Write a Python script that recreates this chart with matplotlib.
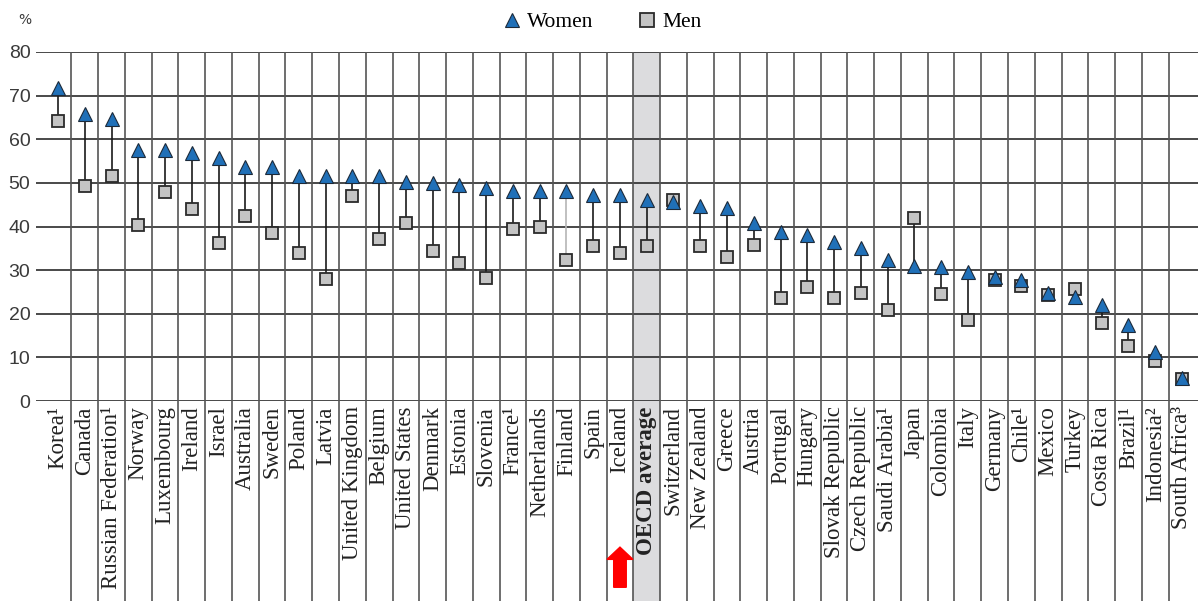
import matplotlib.pyplot as plt
from matplotlib.lines import Line2D
from matplotlib.patches import Rectangle, FancyArrow

countries = ["Korea¹", "Canada", "Russian Federation¹", "Norway", "Luxembourg", "Ireland",
             "Israel", "Australia", "Sweden", "Poland", "Latvia", "United Kingdom", "Belgium",
             "United States", "Denmark", "Estonia", "Slovenia", "France¹", "Netherlands",
             "Finland", "Spain", "Iceland", "OECD average", "Switzerland", "New Zealand",
             "Greece", "Austria", "Portugal", "Hungary", "Slovak Republic", "Czech Republic",
             "Saudi Arabia¹", "Japan", "Colombia", "Italy", "Germany", "Chile¹", "Mexico",
             "Turkey", "Costa Rica", "Brazil¹", "Indonesia²", "South Africa³"]

women = [71.8, 65.8, 64.7, 57.6, 57.6, 56.9, 55.7, 53.7, 53.7, 51.6, 51.5, 51.5, 51.5,
         50.2, 50.0, 49.5, 48.9, 48.2, 48.2, 48.2, 47.2, 47.2, 46.1, 45.6, 44.7,
         44.2, 40.8, 38.8, 38.0, 36.5, 35.1, 32.3, 31.0, 30.7, 29.6, 28.5, 27.8, 24.7,
         23.9, 22.0, 17.4, 11.2, 5.3]

men = [64.2, 49.3, 51.6, 40.4, 47.9, 44.0, 36.2, 42.4, 38.5, 34.0, 28.0, 47.0, 37.2,
       40.8, 34.4, 31.6, 28.2, 39.4, 39.9, 32.3, 35.6, 34.0, 35.6, 46.1, 35.6,
       33.0, 35.8, 23.6, 26.1, 23.6, 24.8, 20.9, 42.0, 24.5, 18.6, 27.8, 26.4, 24.3,
       25.7, 17.9, 12.6, 9.2, 5.0]

highlight = "OECD average"
grey_stem = "Finland"
arrow_at = "Iceland"

serif = ["Liberation Serif", "DejaVu Serif"]

fig = plt.figure(figsize=(11.98, 6.01), dpi=100)
ax = fig.add_axes([36 / 1198, 200 / 601, 1162 / 1198, 349 / 601])

n = len(countries)
x = list(range(n))
ax.set_xlim(-0.822, 42.6)
ax.set_ylim(0, 80)
bottom = -50

# grey band behind the OECD average column
hi = countries.index(highlight)
ax.add_patch(Rectangle((hi - 0.5, bottom), 1, 80 - bottom, facecolor="#dcdcde",
                       edgecolor="none", zorder=0, clip_on=False))

# grid
for v in range(0, 81, 10):
    ax.axhline(v, color="#2a2a2a", lw=1.2, zorder=1)
ax.vlines([i + 0.5 for i in range(n - 1)], bottom, 80, color="#555555", lw=1.2,
          zorder=1, clip_on=False)

# stems
for i, c in enumerate(countries):
    col = "#b5b5b5" if c == grey_stem else "#1a1a1a"
    ax.plot([i, i], [men[i], women[i]], color=col, lw=1.2, zorder=2)

ax.plot(x, men, ls="none", marker="s", ms=9, mfc="#c4c4c4", mec="#2b2b2b", mew=1.3,
        zorder=3, clip_on=False)
ax.plot(x, women, ls="none", marker="^", ms=9.5, mfc="#2070b8", mec="#1c2a3a", mew=0.8,
        zorder=4, clip_on=False)

for s in ax.spines.values():
    s.set_visible(False)
ax.set_xticks([])
ax.set_yticks(range(0, 81, 10))
ax.tick_params(axis="y", length=0, pad=4, labelsize=14, labelcolor="#3a3a3a")
for t in ax.get_yticklabels():
    t.set_family(["Liberation Sans", "DejaVu Sans"])

# category labels below the axis
for i, c in enumerate(countries):
    ax.text(i, -1.2, c, rotation=90, ha="center", va="top", fontsize=16.5,
            family=serif, color="#222222",
            fontweight="bold" if c == highlight else "normal", clip_on=False)

ax.text(-1.25, 87.3, "%", fontsize=10, color="#3a3a3a", ha="center", va="center",
        clip_on=False)

# red arrow under Iceland
ai = countries.index(arrow_at)
ax.add_patch(FancyArrow(ai, -42.7, 0, 9.2, width=0.47, head_width=0.97,
                        head_length=2.8, length_includes_head=True,
                        color="#ff0000", clip_on=False, zorder=5))

handles = [Line2D([], [], ls="none", marker="^", ms=10, mfc="#2070b8", mec="#1c2a3a",
                  mew=0.8, label="Women"),
           Line2D([], [], ls="none", marker="s", ms=10, mfc="#c4c4c4", mec="#2b2b2b",
                  mew=1.3, label="Men")]
fig.legend(handles=handles, loc="center", bbox_to_anchor=(0.502, 0.963), ncol=2,
           frameon=False, handletextpad=0.2, columnspacing=2.0, handlelength=1.0,
           prop={"family": serif, "size": 15.5})

fig.savefig("out.png", dpi=100)
